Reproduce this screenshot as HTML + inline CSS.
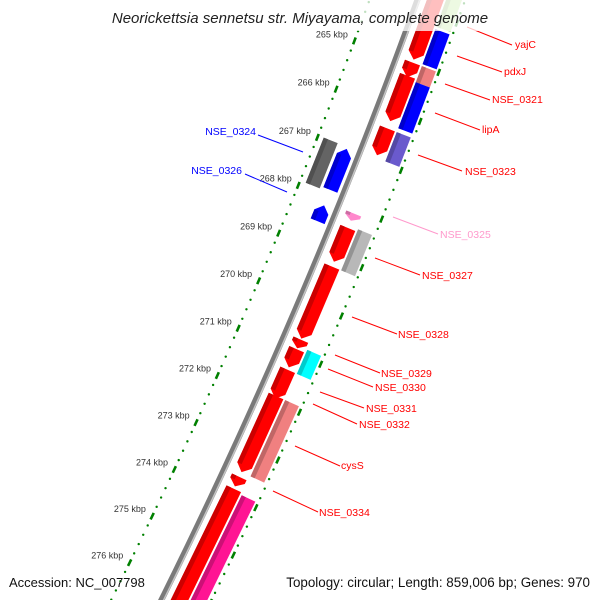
<!DOCTYPE html>
<html><head><meta charset="utf-8"><style>
body{margin:0;background:#fff}
svg{display:block}
text{font-family:"Liberation Sans",sans-serif}
</style></head><body>
<svg id="c" width="600" height="600" viewBox="0 0 600 600">
<g id="rings"></g>
<g id="backbone"></g>
<g id="genes"></g>
<g id="ticklabels"></g>
<g id="labels"></g>
<rect x="100" y="0" width="400" height="31" fill="#fff" opacity="0.75"/>
<text x="300" y="23" text-anchor="middle" font-size="15" font-style="italic" fill="#222">Neorickettsia sennetsu str. Miyayama, complete genome</text>
<text x="9" y="587" font-size="13" fill="#111">Accession: NC_007798</text>
<text x="590" y="587" font-size="13.4" text-anchor="end" fill="#111">Topology: circular; Length: 859,006 bp; Genes: 970</text>
</svg>
<script>
// data arrays
const tickKbp = [265,266,267,268,269,270,271,272,273,274,275,276];
const geneStart = [263.3,265.0,265.27,266.35,268.4,269.2,270.72,270.92,271.35,271.9,273.6,273.85, 263.3,264.25,265.0,265.33,266.35,268.35,270.85,271.9,273.9, 266.96,267.0,268.17,268.1];
const geneEnd   = [264.94,265.3,266.2,266.9,269.1,270.7,270.9,271.3,271.95,273.5,273.8,277.5, 264.2,264.96,265.33,266.27,266.95,269.2,271.35,273.5,277.5, 267.9,267.85,268.5,268.25];
const geneTrack = [1,1,1,1,1,1,1,1,1,1,1,1, 2,2,2,2,2,2,2,2,2, -2,-1,-1,1];
const geneDir   = [1,1,1,1,1,1,1,1,1,1,1,0, 0,0,0,0,0,0,0,0,0, 0,-1,-1,1];
const geneColor = ["#ff0000","#ff0000","#ff0000","#ff0000","#ff0000","#ff0000","#ff0000","#ff0000","#ff0000","#ff0000","#ff0000","#ff0000",
 "#b8e68a","#0000ff","#f08080","#0000ff","#6a5acd","#b8b8b8","#00ffff","#f08080","#ff1493",
 "#646464","#0000ff","#0000ff","#ff88cc"];
const labelText = ["yajC","pdxJ","NSE_0321","lipA","NSE_0323","NSE_0325","NSE_0327","NSE_0328","NSE_0329","NSE_0330","NSE_0331","NSE_0332","cysS","NSE_0334","NSE_0324","NSE_0326"];

const NS="http://www.w3.org/2000/svg";
const CX=-5024, CY=-1967, R0=5786, A0=0.3573, K=0.0090;
function ang(k){return A0+(k-265)*K;}
function pt(k,r){const a=ang(k);return [CX+r*Math.cos(a), CY+r*Math.sin(a)];}
function mk(tag,attrs,parent){const e=document.createElementNS(NS,tag);for(const k in attrs)e.setAttribute(k,attrs[k]);parent.appendChild(e);return e;}

// rings
const rings=document.getElementById('rings');
[R0-45,R0+45].forEach((r)=>{
  for(let j=0; j<=80; j++){
    const kr=262+j*0.2;
    if(j%5===0){
      const p1=pt(kr-0.07,r),p2=pt(kr+0.07,r);
      const d=mk('line',{x1:p1[0],y1:p1[1],x2:p2[0],y2:p2[1],stroke:'#008000','stroke-width':2.6},rings);
      
      
    } else {
      const p=pt(kr,r);
      const c=mk('circle',{cx:p[0],cy:p[1],r:1.2,fill:'#008000'},rings);
      
      
    }
  }
});

// backbone
const bb=document.getElementById('backbone');
function arcPath(r,k0,k1){let s='';for(let k=k0;k<=k1;k+=0.25){const p=pt(k,r);s+=(s?'L':'M')+p[0].toFixed(2)+' '+p[1].toFixed(2);}return s;}
const b1=mk('path',{d:arcPath(R0,262,278),stroke:'#7a7a7a','stroke-width':6,fill:'none'},bb);


const b2=mk('path',{d:arcPath(R0+2,262,278),stroke:'#c4c4c4','stroke-width':1.5,fill:'none'},bb);



// genes
const trackR={'1':[R0+9,R0+25],'2':[R0+27,R0+42],'-1':[R0-21,R0-6],'-2':[R0-39,R0-24]};
const gg=document.getElementById('genes');
function shade(hex,f){const n=parseInt(hex.slice(1),16);let r=n>>16,g=(n>>8)&255,b=n&255;r=Math.round(r*f);g=Math.round(g*f);b=Math.round(b*f);return `rgb(${r},${g},${b})`;}
for(let i=0;i<geneStart.length;i++){
  const [ri,ro]=trackR[String(geneTrack[i])];
  const s=geneStart[i],e=geneEnd[i],d=geneDir[i];
  const head=Math.min(0.14,(e-s)*0.6);
  let pts=[];
  if(d===1){pts=[pt(s,ri),pt(e-head,ri),pt(e,(ri+ro)/2),pt(e-head,ro),pt(s,ro)];}
  else if(d===-1){pts=[pt(e,ri),pt(s+head,ri),pt(s,(ri+ro)/2),pt(s+head,ro),pt(e,ro)];}
  else {pts=[pt(s,ri),pt(e,ri),pt(e,ro),pt(s,ro)];}
  const p=mk('polygon',{points:pts.map(q=>q[0].toFixed(2)+','+q[1].toFixed(2)).join(' '),fill:geneColor[i]},gg);
  
  
  const r2=ri+(ro-ri)*0.3;
  let sp;
  if(d===0) sp=[pt(s,ri),pt(e,ri),pt(e,r2),pt(s,r2)];
  else if(d===1) sp=[pt(s,ri),pt(e-head,ri),pt(e-head,r2),pt(s,r2)];
  else sp=[pt(s+head,ri),pt(e,ri),pt(e,r2),pt(s+head,r2)];
  const st=mk('polygon',{points:sp.map(q=>q[0].toFixed(2)+','+q[1].toFixed(2)).join(' '),fill:shade(geneColor[i],0.8)},gg);
  
  
}

// tick labels
const tl=document.getElementById('ticklabels');
tickKbp.forEach(k=>{
  const p=pt(k,R0-52);
  const t=mk('text',{x:p[0].toFixed(1),y:(p[1]-1).toFixed(1),'text-anchor':'end','font-size':9,fill:'#333'},tl);
  t.textContent=k+' kbp';
  
  
});

// gene labels (annotation callouts)
const lab=document.getElementById('labels');
const callouts=[
 [467,27,512,45,515,48,'#ff0000','start'],
 [457,56,502,72,504,75,'#ff0000','start'],
 [445,84,490,100,492,103,'#ff0000','start'],
 [435,113,480,130,482,133,'#ff0000','start'],
 [418,155,462,171,465,175,'#ff0000','start'],
 [393,217,438,234,440,238,'#ff99cc','start'],
 [375,258,420,275,422,279,'#ff0000','start'],
 [352,317,397,334,398,338,'#ff0000','start'],
 [335,355,380,373,381,377,'#ff0000','start'],
 [328,369,373,387,375,391,'#ff0000','start'],
 [320,392,364,408,366,412,'#ff0000','start'],
 [313,404,357,424,359,428,'#ff0000','start'],
 [295,446,340,466,341,469,'#ff0000','start'],
 [273,491,318,512,319,516,'#ff0000','start'],
 [303,152,258,135,256,135,'#0000ff','end'],
 [287,192,245,174,242,174,'#0000ff','end']
];
callouts.forEach((c,i)=>{
  const l=mk('line',{x1:c[0],y1:c[1],x2:c[2],y2:c[3],stroke:c[6],'stroke-width':1},lab);
  
  
  const t=mk('text',{x:c[4],y:c[5],'font-size':10.5,fill:c[6],'text-anchor':c[7]},lab);
  t.textContent=labelText[i];
  
  
});
</script>
</body></html>
